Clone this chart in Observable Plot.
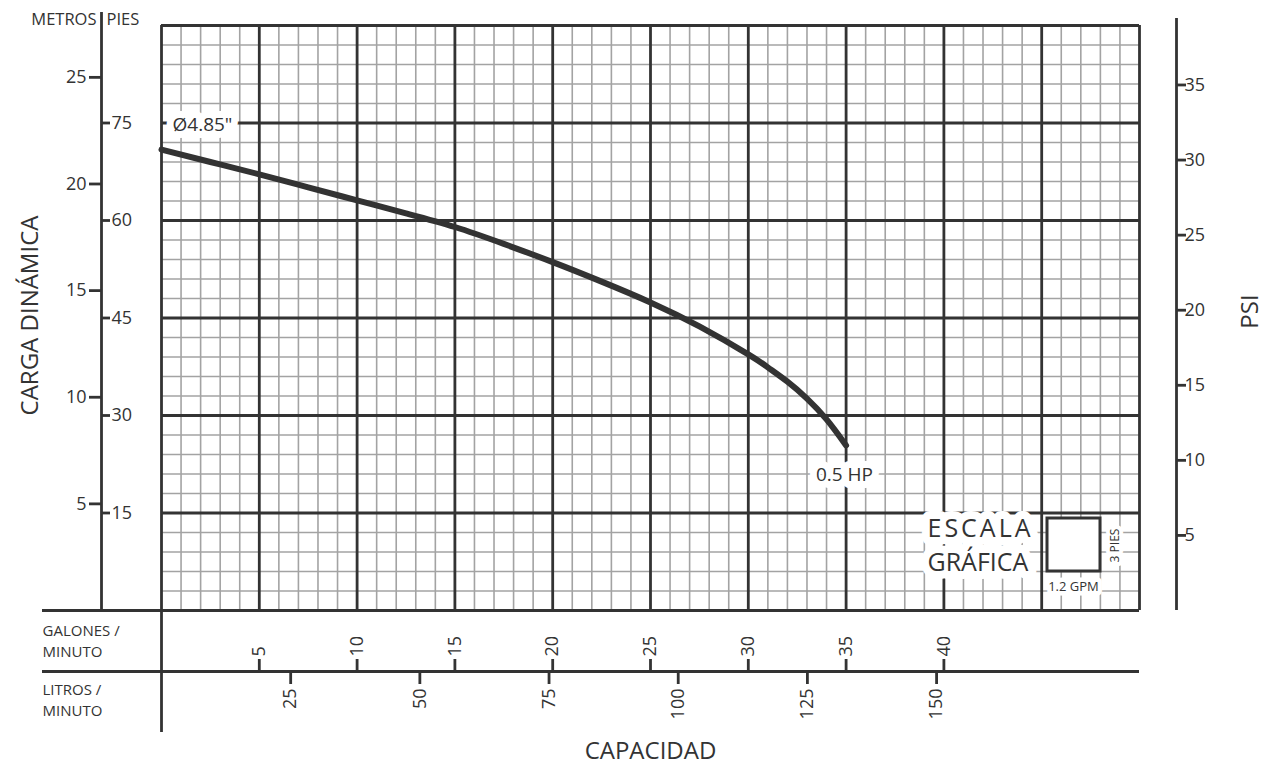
<!DOCTYPE html>
<html>
<head>
<meta charset="utf-8">
<script src="https://cdn.jsdelivr.net/npm/d3@7"></script>
<script src="https://cdn.jsdelivr.net/npm/@observablehq/plot@0.6"></script>
<style>
  html, body { margin: 0; padding: 0; background: #fff; }
</style>
</head>
<body>
<div id="chart"></div>
<script>
// ---- data ----
const capacityGpm = [0, 2.5, 5, 7.5, 10, 12.5, 15, 17.5, 20, 22.5, 25, 27.5, 30, 31, 32, 33, 34, 35];
const headFt      = [70.9, 69.0, 67.1, 65.1, 63.1, 61.1, 59.0, 56.4, 53.6, 50.6, 47.4, 43.7, 39.4, 37.4, 35.2, 32.6, 29.4, 25.4];

const metrosTicks = [5, 10, 15, 20, 25];
const piesTicks   = [15, 30, 45, 60, 75];
const psiTicks    = [5, 10, 15, 20, 25, 30, 35];
const gpmTicks    = [5, 10, 15, 20, 25, 30, 35, 40];
const lpmTicks    = [25, 50, 75, 100, 125, 150];

const curveLabel = "Ø4.85\"";
const hpLabel = "0.5 HP";

const FT_PER_M = 3.28084;
const FT_PER_PSI = 2.31;
const L_PER_GAL = 3.78541;

// ---- layout (pixel positions converted to scale units) ----
const X0 = 161, X1 = 1139, Y0 = 610, Y1 = 25;
const XMAX = 50, YMAX = 90;
const pxX = p => (p - X0) * XMAX / (X1 - X0);
const pxY = p => (Y0 - p) * YMAX / (Y0 - Y1);

const minorX = d3.range(0, XMAX + 1, 1).filter(d => d % 5 !== 0);
const minorY = d3.range(0, YMAX + 1, 3).filter(d => d % 15 !== 0);
const majorX = d3.range(0, XMAX + 1, 5);
const majorY = d3.range(0, YMAX + 1, 15);

const curve = capacityGpm.map((g, i) => ({gpm: g, ft: headFt[i]}));

const ink = "#333";
const gridGray = "#a3a3a3";
const font = "Open Sans";

const halo = {stroke: "white", strokeWidth: 14, strokeLinejoin: "round", paintOrder: "stroke", fill: ink};

const chart = Plot.plot({
  width: 1270,
  height: 768,
  margin: 0,
  x: {domain: [0, XMAX], range: [X0, X1], axis: null},
  y: {domain: [0, YMAX], range: [Y0, Y1], axis: null},
  style: {fontFamily: font, color: ink, background: "white"},
  marks: [
    // minor grid
    Plot.ruleX(minorX, {y1: 0, y2: YMAX, stroke: gridGray, strokeWidth: 1.6}),
    Plot.ruleY(minorY, {x1: 0, x2: XMAX, stroke: gridGray, strokeWidth: 1.6}),
    // major grid
    Plot.ruleX(majorX, {y1: 0, y2: YMAX, stroke: ink, strokeWidth: 2.8}),
    Plot.ruleY(majorY, {x1: 0, x2: XMAX, stroke: ink, strokeWidth: 2.8}),

    // bottom table lines
    Plot.ruleY([0], {x1: pxX(42), x2: 0, stroke: ink, strokeWidth: 2.8}),
    Plot.ruleY([pxY(671)], {x1: pxX(42), x2: XMAX, stroke: ink, strokeWidth: 2.8}),
    Plot.ruleX([0], {y1: 0, y2: pxY(732), stroke: ink, strokeWidth: 2.8}),

    // left metros/pies axis
    Plot.ruleX([pxX(101)], {y1: pxY(12), y2: 0, stroke: ink, strokeWidth: 2.8}),
    Plot.ruleY(metrosTicks, {y: d => d * FT_PER_M, x1: pxX(89), x2: pxX(101), stroke: ink, strokeWidth: 2.8}),
    Plot.text(metrosTicks, {y: d => d * FT_PER_M, x: pxX(86), text: d => String(d), textAnchor: "end", fontSize: 18, fill: ink}),
    Plot.ruleY(piesTicks, {y: d => d, x1: pxX(101), x2: pxX(110), stroke: ink, strokeWidth: 2.8}),
    Plot.text(piesTicks, {y: d => d, x: pxX(111), text: d => String(d), textAnchor: "start", fontSize: 18, fill: ink}),
    Plot.text(["METROS"], {x: pxX(96), y: pxY(19), textAnchor: "end", fontSize: 16.5, fill: ink}),
    Plot.text(["PIES"], {x: pxX(106), y: pxY(19), textAnchor: "start", fontSize: 16.5, fill: ink}),

    // right PSI axis
    Plot.ruleX([pxX(1176)], {y1: 0, y2: pxY(18), stroke: ink, strokeWidth: 2.8}),
    Plot.ruleY(psiTicks, {y: d => d * FT_PER_PSI, x1: pxX(1176), x2: pxX(1186), stroke: ink, strokeWidth: 2.8}),
    Plot.text(psiTicks, {y: d => d * FT_PER_PSI, x: pxX(1184), text: d => String(d), textAnchor: "start", fontSize: 18, fill: ink}),

    // GPM row
    Plot.ruleX(gpmTicks, {x: d => d, y1: pxY(671), y2: pxY(659), stroke: ink, strokeWidth: 2.8}),
    Plot.text(gpmTicks, {x: d => d, y: pxY(656), text: d => String(d), rotate: -90, textAnchor: "start", fontSize: 18, fill: ink}),
    // LPM row
    Plot.ruleX(lpmTicks, {x: d => d / L_PER_GAL, y1: pxY(671), y2: pxY(684), stroke: ink, strokeWidth: 2.8}),
    Plot.text(lpmTicks, {x: d => d / L_PER_GAL, y: pxY(688), text: d => String(d), rotate: -90, textAnchor: "end", fontSize: 18, fill: ink}),

    Plot.text(["GALONES /"], {x: pxX(42), y: pxY(631), textAnchor: "start", fontSize: 15, fill: ink}),
    Plot.text(["MINUTO"], {x: pxX(42), y: pxY(652), textAnchor: "start", fontSize: 15, fill: ink}),
    Plot.text(["LITROS /"], {x: pxX(42), y: pxY(690), textAnchor: "start", fontSize: 15, fill: ink}),
    Plot.text(["MINUTO"], {x: pxX(42), y: pxY(711), textAnchor: "start", fontSize: 15, fill: ink}),

    // titles
    Plot.text(["CAPACIDAD"], {x: pxX(650), y: pxY(751), fontSize: 24, fill: ink}),
    Plot.text(["CARGA DINÁMICA"], {x: pxX(30), y: pxY(315), rotate: -90, fontSize: 24, fill: ink}),
    Plot.text(["PSI"], {x: pxX(1250), y: pxY(311), rotate: -90, fontSize: 24, fill: ink}),

    // pump curve
    Plot.line(curve, {x: "gpm", y: "ft", curve: "natural", stroke: ink, strokeWidth: 6, strokeLinecap: "round"}),

    // curve labels
    Plot.text([curveLabel], {x: pxX(172), y: pxY(124), textAnchor: "start", fontSize: 19, ...halo}),
    Plot.text([hpLabel], {x: pxX(844), y: pxY(474), textAnchor: "middle", fontSize: 19, ...halo}),

    // escala gráfica
    Plot.text(["ESCALA"], {x: pxX(927), y: pxY(528), textAnchor: "start", fontSize: 25, ...halo, strokeWidth: 16}),
    Plot.text(["GRÁFICA"], {x: pxX(927), y: pxY(562), textAnchor: "start", fontSize: 25, ...halo, strokeWidth: 16}),
    Plot.rect([0], {x1: pxX(1047), x2: pxX(1100), y1: pxY(571), y2: pxY(518), fill: "white", stroke: ink, strokeWidth: 3}),
    Plot.text(["3 PIES"], {x: pxX(1115), y: pxY(545), rotate: -90, fontSize: 12, ...halo, strokeWidth: 8}),
    Plot.text(["1.2 GPM"], {x: pxX(1073), y: pxY(586), fontSize: 13, ...halo, strokeWidth: 9})
  ]
});

d3.select(chart).selectAll("text").filter(function () { return this.textContent === "ESCALA"; })
  .attr("letter-spacing", 3);

document.getElementById("chart").appendChild(chart);
</script>
</body>
</html>
